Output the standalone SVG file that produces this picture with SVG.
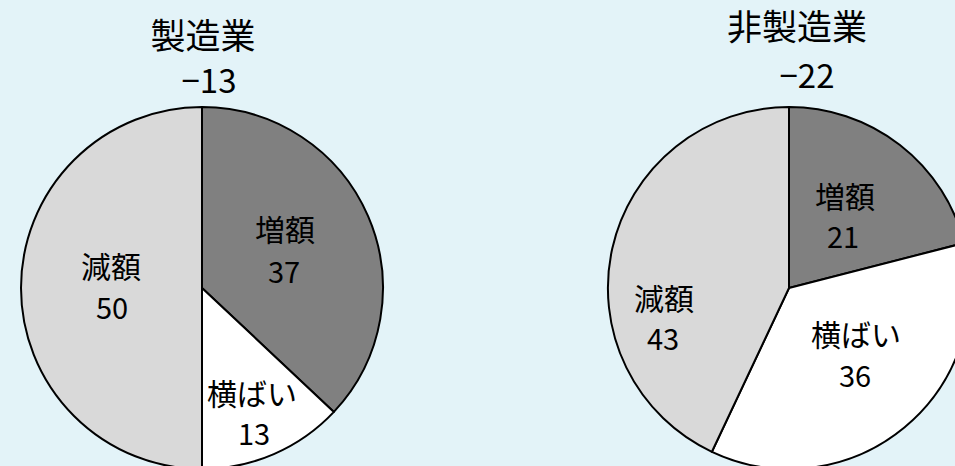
<svg xmlns="http://www.w3.org/2000/svg" width="955" height="466" viewBox="0 0 955 466">
<style>
.bg{fill:#E3F3F8}
.slice{stroke:#000;stroke-width:2;stroke-linejoin:round}
.inc{fill:#808080}
.dec{fill:#D9D9D9}
.flat{fill:#FFFFFF}
text{font-family:"Noto Sans CJK JP","Noto Sans CJK SC",sans-serif;fill:#000;text-anchor:middle}
.title{font-size:35px}
.tnum{font-size:33px}
.lab{font-size:30px}
.num{font-size:29px}
</style>
<rect class="bg" x="0" y="0" width="955" height="466"/>
<g id="pie-manufacturing">
  <g id="m-increase">
    <path class="slice inc" d="M202,288 L202,107 A181,181 0 0 1 333.9,411.9 Z"/>
    <text class="lab" x="285" y="241">増額</text>
    <text class="num" x="284" y="283">37</text>
  </g>
  <g id="m-flat">
    <path class="slice flat" d="M202,288 L333.9,411.9 A181,181 0 0 1 202,469 Z"/>
    <text class="lab" x="252" y="405">横ばい</text>
    <text class="num" x="254" y="445">13</text>
  </g>
  <g id="m-decrease">
    <path class="slice dec" d="M202,288 L202,469 A181,181 0 0 1 202,107 Z"/>
    <text class="lab" x="111" y="278">減額</text>
    <text class="num" x="112" y="319">50</text>
  </g>
  <g id="m-title">
    <text class="title" x="203" y="49">製造業</text>
    <text class="tnum" x="209" y="93">−13</text>
  </g>
</g>
<g id="pie-nonmanufacturing">
  <g id="n-increase">
    <path class="slice inc" d="M789,288 L789,107 A181,181 0 0 1 964.3,243 Z"/>
    <text class="lab" x="845" y="208">増額</text>
    <text class="num" x="843" y="248">21</text>
  </g>
  <g id="n-flat">
    <path class="slice flat" d="M789,288 L964.3,243 A181,181 0 0 1 711.9,451.8 Z"/>
    <text class="lab" x="856" y="346">横ばい</text>
    <text class="num" x="855" y="387">36</text>
  </g>
  <g id="n-decrease">
    <path class="slice dec" d="M789,288 L711.9,451.8 A181,181 0 0 1 789,107 Z"/>
    <text class="lab" x="664" y="310">減額</text>
    <text class="num" x="663" y="350">43</text>
  </g>
  <g id="n-title">
    <text class="title" x="797" y="40">非製造業</text>
    <text class="tnum" x="807" y="88">−22</text>
  </g>
</g>
</svg>
